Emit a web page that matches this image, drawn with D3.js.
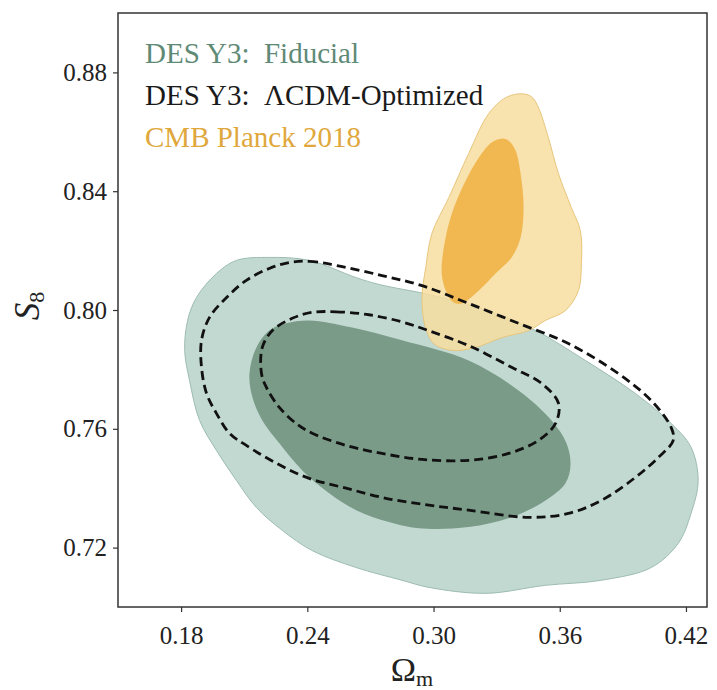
<!DOCTYPE html>
<html>
<head>
<meta charset="utf-8">
<script src="https://cdn.jsdelivr.net/npm/d3@7"></script>
<style>
  html, body { margin: 0; padding: 0; background: #fff; }
  text { font-family: 'Liberation Serif', 'DejaVu Serif', serif; }
</style>
</head>
<body>
<div id="chart"></div>
<script>
// contour outlines, [Omega_m, S8]
const fiducial95 = [
  [0.1817, 0.7864], [0.1831, 0.7965], [0.1873, 0.8042], [0.1968, 0.8123], [0.2063, 0.8167],
  [0.2219, 0.8177], [0.2409, 0.8167], [0.2632, 0.8109], [0.2741, 0.8086], [0.2978, 0.8052],
  [0.3215, 0.8008], [0.3466, 0.7938], [0.3722, 0.7830], [0.3959, 0.7719], [0.4130, 0.7618],
  [0.4224, 0.7538], [0.4258, 0.7426], [0.4224, 0.7315], [0.4163, 0.7214], [0.4035, 0.7133],
  [0.3798, 0.7090], [0.3532, 0.7073], [0.3248, 0.7046], [0.2978, 0.7066], [0.2850, 0.7090],
  [0.2632, 0.7133], [0.2423, 0.7190], [0.2281, 0.7258], [0.2158, 0.7335], [0.2063, 0.7426],
  [0.1968, 0.7527], [0.1888, 0.7628], [0.1840, 0.7763]
];
const fiducial68 = [
  [0.2409, 0.7965], [0.2613, 0.7941], [0.2850, 0.7898], [0.3167, 0.7830], [0.3404, 0.7729],
  [0.3561, 0.7628], [0.3632, 0.7551], [0.3651, 0.7477], [0.3627, 0.7417], [0.3532, 0.7359],
  [0.3371, 0.7302], [0.3167, 0.7269], [0.2930, 0.7265], [0.2788, 0.7286], [0.2632, 0.7326],
  [0.2504, 0.7383], [0.2376, 0.7460], [0.2267, 0.7551], [0.2186, 0.7628], [0.2139, 0.7706],
  [0.2125, 0.7787], [0.2158, 0.7874], [0.2219, 0.7931], [0.2300, 0.7955]
];
const optimized95 = [
  [0.2314, 0.8160], [0.2409, 0.8164], [0.2537, 0.8150], [0.2755, 0.8116], [0.2945, 0.8082],
  [0.3167, 0.8022], [0.3404, 0.7955], [0.3641, 0.7887], [0.3878, 0.7786], [0.4035, 0.7695],
  [0.4130, 0.7604], [0.4139, 0.7560], [0.4068, 0.7503], [0.3959, 0.7436], [0.3798, 0.7359],
  [0.3641, 0.7315], [0.3452, 0.7302], [0.3167, 0.7326], [0.2978, 0.7343], [0.2774, 0.7366],
  [0.2584, 0.7400], [0.2409, 0.7433], [0.2253, 0.7484], [0.2110, 0.7544], [0.2030, 0.7585],
  [0.1968, 0.7652], [0.1921, 0.7719], [0.1897, 0.7807], [0.1897, 0.7898], [0.1935, 0.7975],
  [0.2016, 0.8042], [0.2110, 0.8100], [0.2219, 0.8140]
];
const optimized68 = [
  [0.2423, 0.7992], [0.2537, 0.7994], [0.2693, 0.7984], [0.2850, 0.7960], [0.2978, 0.7930],
  [0.3167, 0.7880], [0.3371, 0.7807], [0.3513, 0.7753], [0.3594, 0.7686], [0.3580, 0.7618],
  [0.3499, 0.7561], [0.3357, 0.7517], [0.3167, 0.7494], [0.2945, 0.7497], [0.2755, 0.7517],
  [0.2584, 0.7544], [0.2423, 0.7585], [0.2352, 0.7615], [0.2267, 0.7672], [0.2205, 0.7740],
  [0.2182, 0.7787], [0.2186, 0.7874], [0.2234, 0.7931], [0.2328, 0.7972]
];
const planck95 = [
  [0.3419, 0.8728], [0.3466, 0.8718], [0.3499, 0.8681], [0.3546, 0.8580], [0.3594, 0.8459],
  [0.3655, 0.8345], [0.3698, 0.8267], [0.3703, 0.8156], [0.3689, 0.8066], [0.3627, 0.7998],
  [0.3532, 0.7965], [0.3452, 0.7931], [0.3324, 0.7907], [0.3200, 0.7874], [0.3087, 0.7864],
  [0.3001, 0.7887], [0.2959, 0.7948], [0.2945, 0.8042], [0.2963, 0.8143], [0.2992, 0.8257],
  [0.3073, 0.8379], [0.3167, 0.8527], [0.3262, 0.8661], [0.3343, 0.8715]
];
const planck68 = [
  [0.3324, 0.8577], [0.3357, 0.8570], [0.3390, 0.8537], [0.3414, 0.8459], [0.3428, 0.8345],
  [0.3414, 0.8244], [0.3371, 0.8177], [0.3295, 0.8123], [0.3215, 0.8066], [0.3134, 0.8022],
  [0.3096, 0.8025], [0.3058, 0.8066], [0.3039, 0.8123], [0.3049, 0.8211], [0.3087, 0.8325],
  [0.3153, 0.8436], [0.3215, 0.8513], [0.3276, 0.8564]
];

const xTicks = [0.18, 0.24, 0.30, 0.36, 0.42];
const yTicks = [0.72, 0.76, 0.80, 0.84, 0.88];
const legendLabels = ['DES Y3:  Fiducial', 'DES Y3:  \u039BCDM-Optimized', 'CMB Planck 2018'];
const legendColors = ['#5e8a76', '#1a1a1a', '#e0a83c'];

let width = 717
  ,height = 690
  ,margin = {top: 13, right: 10, bottom: 83, left: 118};

let svg = d3.select('#chart')
  .append('svg')
  .attr('width', width)
  .attr('height', height);

let x = d3.scaleLinear()
  .domain([0.15, 0.43])
  .range([margin.left, width - margin.right]);

let y = d3.scaleLinear()
  .domain([0.70, 0.90])
  .range([height - margin.bottom, margin.top]);

let contour = d3.line()
  .x(d => x(d[0]))
  .y(d => y(d[1]))
  .curve(d3.curveCatmullRomClosed.alpha(0.5));

let plot = svg.append('g');

//fiducial filled contours
plot.append('path')
  .attr('d', contour(fiducial95))
  .attr('fill', '#c2d9d2')
  .attr('stroke', '#9dbcb1')
  .attr('stroke-width', 1);

plot.append('path')
  .attr('d', contour(fiducial68))
  .attr('fill', '#7a9b88');

//planck filled contours
plot.append('path')
  .attr('d', contour(planck95))
  .attr('fill', '#f7dda0')
  .attr('fill-opacity', 0.85)
  .attr('stroke', '#e8c67c')
  .attr('stroke-width', 1);

plot.append('path')
  .attr('d', contour(planck68))
  .attr('fill', '#f0b447')
  .attr('fill-opacity', 0.9);

//optimized dashed contours
[optimized95, optimized68].forEach(c => {
  plot.append('path')
    .attr('d', contour(c))
    .attr('fill', 'none')
    .attr('stroke', '#111')
    .attr('stroke-width', 2.8)
    .attr('stroke-dasharray', '9,5');
});

//axes
let xAxis = d3.axisBottom(x)
  .tickValues(xTicks)
  .tickFormat(d3.format('.2f'))
  .tickSize(5)
  .tickPadding(6);

let yAxis = d3.axisLeft(y)
  .tickValues(yTicks)
  .tickFormat(d3.format('.2f'))
  .tickSize(5)
  .tickPadding(6);

svg.append('g')
  .attr('transform', `translate(0,${height - margin.bottom})`)
  .call(xAxis)
  .call(g => g.select('.domain').remove())
  .call(g => g.selectAll('text').attr('dy', '1.05em'));

svg.append('g')
  .attr('transform', `translate(${margin.left},0)`)
  .call(yAxis)
  .call(g => g.select('.domain').remove());

svg.selectAll('.tick text')
  .attr('font-family', 'Liberation Serif, serif')
  .attr('font-size', 25)
  .attr('fill', '#222');

svg.selectAll('.tick line')
  .attr('stroke', '#333')
  .attr('stroke-width', 1.2);

//frame
svg.append('rect')
  .attr('x', margin.left)
  .attr('y', margin.top)
  .attr('width', width - margin.left - margin.right)
  .attr('height', height - margin.top - margin.bottom)
  .attr('fill', 'none')
  .attr('stroke', '#333')
  .attr('stroke-width', 1.5);

//legend text
svg.append('g')
  .selectAll('text')
  .data(legendLabels)
  .enter().append('text')
  .attr('x', 145)
  .attr('y', (d, i) => 63 + i * 42)
  .attr('font-size', 29)
  .attr('fill', (d, i) => legendColors[i])
  .style('white-space', 'pre')
  .text(d => d);

//axis labels
let xl = svg.append('text')
  .attr('x', 412)
  .attr('y', 681)
  .attr('text-anchor', 'middle')
  .attr('font-size', 34)
  .attr('fill', '#222');
xl.append('tspan').text('\u03A9');
xl.append('tspan').attr('font-size', 22).attr('dy', 5).text('m');

let yl = svg.append('text')
  .attr('transform', 'translate(39,306) rotate(-90)')
  .attr('text-anchor', 'middle')
  .attr('font-size', 35)
  .attr('fill', '#222');
yl.append('tspan').attr('font-style', 'italic').text('S');
yl.append('tspan').attr('font-size', 22).attr('dy', 5).text('8');
</script>
</body>
</html>
